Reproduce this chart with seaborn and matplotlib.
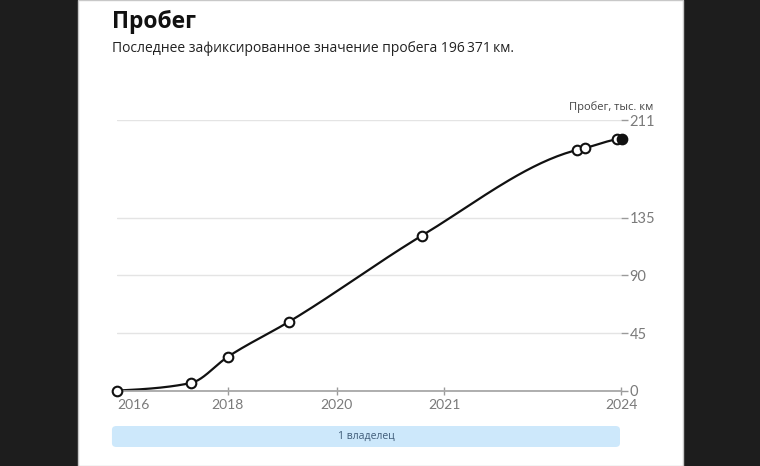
"""
Mileage history chart: smooth line through recorded odometer values.
"""

import numpy as np
import matplotlib.pyplot as plt
import seaborn as sns
from matplotlib.patches import Rectangle, FancyBboxPatch

sns.set_theme(style='white')
plt.rcParams['font.family'] = ['Lato', 'Open Sans', 'DejaVu Sans']

# Recorded mileage (thousand km) at positions along the timeline axis
pos = [0, 14.6, 21.9, 34.0, 60.3, 91.1, 92.7, 99.0, 100.0]
mileage = [0.3, 6.2, 26.5, 53.8, 120.8, 187.7, 189.2, 195.9, 196.371]

year_pos = [0, 21.9, 43.5, 64.8, 99.8]
year_labels = ['2016', '2018', '2020', '2021', '2024']
y_ticks = [0, 45, 90, 135, 211]

owner_labels = ['1 владелец']
owner_start = [-1.0]
owner_end = [99.4]

TEXT_FONT = ['Open Sans', 'DejaVu Sans']


def monotone_curve(x, y, n=40):
    """Monotone cubic (d3 curveMonotoneX style) for drawing the line."""
    x = np.asarray(x, float)
    y = np.asarray(y, float)
    h = np.diff(x)
    s = np.diff(y) / h
    m = np.zeros_like(x)
    for i in range(1, len(x) - 1):
        p = (s[i - 1] * h[i] + s[i] * h[i - 1]) / (h[i - 1] + h[i])
        m[i] = (np.sign(s[i - 1]) + np.sign(s[i])) * min(abs(s[i - 1]), abs(s[i]), 0.5 * abs(p))
    m[0] = (3 * s[0] - m[1]) / 2
    m[-1] = (3 * s[-1] - m[-2]) / 2
    xs, ys = [], []
    t = np.linspace(0, 1, n)
    for i in range(len(h)):
        h00 = 2 * t**3 - 3 * t**2 + 1
        h10 = t**3 - 2 * t**2 + t
        h01 = -2 * t**3 + 3 * t**2
        h11 = t**3 - t**2
        xs.append(x[i] + t * h[i])
        ys.append(h00 * y[i] + h10 * h[i] * m[i] + h01 * y[i + 1] + h11 * h[i] * m[i + 1])
    return np.concatenate(xs), np.concatenate(ys)


W, H = 760, 466
fig = plt.figure(figsize=(W / 100, H / 100), dpi=100)
fig.patch.set_facecolor('#1d1d1d')
fig.add_artist(Rectangle((78 / W, 0), (683 - 78) / W, 1, transform=fig.transFigure,
                         facecolor='white', edgecolor='#c8c8c8', linewidth=1, zorder=0))

# Header
fig.text(112 / W, 1 - 28 / H, 'Пробег', fontsize=16.5, fontweight='bold',
         color='#111111', family=TEXT_FONT, va='baseline')
fig.text(112 / W, 1 - 52 / H, 'Последнее зафиксированное значение пробега 196\u2009371\u2009км.',
         fontsize=10, color='#222222', family=TEXT_FONT, va='baseline')

# Main chart
ax = fig.add_axes([117 / W, (H - 391) / H, (621 - 117) / W, 271 / H])
ax.set_facecolor('none')

xs, ys = monotone_curve(pos, mileage)
sns.lineplot(x=xs, y=ys, ax=ax, color='#111111', linewidth=1.6, sort=False,
             estimator=None, zorder=2)
sns.scatterplot(x=pos[:-1], y=mileage[:-1], ax=ax, s=48, color='white',
                edgecolor='#111111', linewidth=1.5, zorder=3, clip_on=False)
sns.scatterplot(x=pos[-1:], y=mileage[-1:], ax=ax, s=48, color='#111111',
                edgecolor='#111111', linewidth=1.5, zorder=4, clip_on=False)

ax.set_xlim(0, 99.6)
ax.set_ylim(0, 211)
ax.set_xlabel('')
ax.set_ylabel('')

ax.set_yticks(y_ticks)
ax.yaxis.tick_right()
ax.tick_params(axis='y', length=5, width=1, color='#9a9a9a', labelcolor='#7a7a7a',
               labelsize=10.5, pad=1)
ax.grid(axis='y', color='#e4e4e4', linewidth=1)
ax.grid(axis='x', visible=False)

ax.set_xticks(year_pos, year_labels)
ax.tick_params(axis='x', direction='inout', length=6, width=1, color='#9a9a9a',
               labelcolor='#7a7a7a', labelsize=10, pad=3, bottom=True)
ax.get_xticklabels()[0].set_ha('left')

for side in ['top', 'left', 'right']:
    ax.spines[side].set_visible(False)
ax.spines['bottom'].set_color('#a8a8a8')
ax.spines['bottom'].set_linewidth(1.3)

fig.text(653 / W, 1 - 107 / H, 'Пробег, тыс. км', fontsize=8, color='#444444',
         family=TEXT_FONT, ha='right', va='center')

# Owner timeline bar
ax_own = fig.add_axes([117 / W, (H - 447) / H, (621 - 117) / W, 21 / H])
ax_own.set_xlim(0, 99.6)
ax_own.set_ylim(0, 1)
ax_own.axis('off')
for label, x0, x1 in zip(owner_labels, owner_start, owner_end):
    ax_own.add_patch(FancyBboxPatch((x0, 0), x1 - x0, 1,
                                    boxstyle='round,pad=0,rounding_size=0.9',
                                    mutation_aspect=0.2,
                                    facecolor='#cde8fb', edgecolor='none', clip_on=False))
    ax_own.text((x0 + x1) / 2, 0.5, label, ha='center', va='center', fontsize=7.5,
                color='#3e5b78', family=TEXT_FONT)

fig.savefig('out.png', dpi=100)
